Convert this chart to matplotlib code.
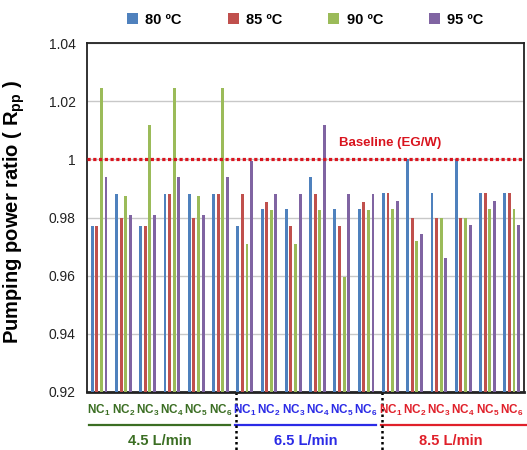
import numpy as np
import matplotlib
matplotlib.use("Agg")
import matplotlib.pyplot as plt
from matplotlib.transforms import blended_transform_factory

plt.rcParams["font.family"] = ["Liberation Sans", "DejaVu Sans"]
plt.rcParams["mathtext.fontset"] = "custom"
plt.rcParams["mathtext.rm"] = "Liberation Sans"
plt.rcParams["mathtext.bf"] = "Liberation Sans:bold"

# ---------------------------------------------------------------------------
# Data
# ---------------------------------------------------------------------------
nanofluids = ["NC$_\\mathbf{%d}$" % i for i in range(1, 7)]
flow_rates = ["4.5 L/min", "6.5 L/min", "8.5 L/min"]
temps = ["80 ºC", "85 ºC", "90 ºC", "95 ºC"]

r80 = [0.977, 0.988, 0.977, 0.988, 0.988, 0.988,
       0.977, 0.983, 0.983, 0.994, 0.983, 0.983,
       0.9885, 1.000, 0.9886, 1.000, 0.9885, 0.9885]
r85 = [0.977, 0.980, 0.977, 0.988, 0.980, 0.988,
       0.988, 0.9855, 0.977, 0.988, 0.977, 0.9855,
       0.9885, 0.980, 0.980, 0.980, 0.9885, 0.9885]
r90 = [1.0245, 0.9875, 1.012, 1.0245, 0.9875, 1.0245,
       0.971, 0.9825, 0.971, 0.9825, 0.9595, 0.9825,
       0.983, 0.972, 0.980, 0.980, 0.983, 0.983]
r95 = [0.994, 0.981, 0.981, 0.994, 0.981, 0.994,
       0.9995, 0.988, 0.988, 1.012, 0.988, 0.988,
       0.9856, 0.9745, 0.966, 0.9774, 0.9856, 0.9774]

baseline = 1.0

bar_colors = ["#4F81BD", "#C0504D", "#9BBB59", "#8064A2"]
block_colors = ["#3B6E23", "#2B2BE6", "#E0202A"]

# ---------------------------------------------------------------------------
# Plot
# ---------------------------------------------------------------------------
fig = plt.figure(figsize=(5.27, 4.5), dpi=100)
ax = fig.add_axes([0.165, 0.129, 0.829, 0.775])

x = np.arange(len(r80))
step, width = 0.19, 0.12
series = [r80, r85, r90, r95]
bars = []
for i, (vals, col) in enumerate(zip(series, bar_colors)):
    off = (i - 1.5) * step
    bars.append(ax.bar(x + off, np.array(vals) - 0.92, width, bottom=0.92,
                       color=col, edgecolor="none", zorder=3))

ax.set_xlim(-0.5, len(x) - 0.5)
ax.set_ylim(0.92, 1.04)
ax.set_yticks([0.92, 0.94, 0.96, 0.98, 1.0, 1.02, 1.04])
ax.set_yticklabels(["0.92", "0.94", "0.96", "0.98", "1", "1.02", "1.04"])
ax.tick_params(axis="y", length=0, labelsize=10, pad=8, colors="#222222")
ax.tick_params(axis="x", length=0, labelbottom=False)
ax.grid(axis="y", color="#C8C8C8", lw=1, zorder=0)
for s in ax.spines.values():
    s.set_color("#222222")
    s.set_linewidth(1.3)
ax.spines["bottom"].set_linewidth(2)

ax.set_ylabel("Pumping power ratio ( R$_{\\mathbf{pp}}$ )", fontsize=14.5,
              fontweight="bold")
ax.yaxis.set_label_coords(-0.137, 0.516)

# baseline
ax.axhline(baseline, color="#D9141E", lw=2.3, ls=(0, (1, 0.8)), zorder=4)
ax.text(9.9, baseline + 0.0035, "Baseline (EG/W)", color="#D9141E",
        fontsize=9.5, fontweight="bold", va="bottom", ha="left")

# legend
ax.legend(bars, temps, loc="lower center", bbox_to_anchor=(0.5, 1.01),
          ncol=4, frameon=False, handlelength=0.75, handleheight=0.75,
          handletextpad=0.5, columnspacing=3.15,
          prop={"size": 10.5, "weight": "bold"})

# x labels: nanofluid per group, flow rate per block
trans = blended_transform_factory(ax.transData, ax.transAxes)
for b, (rate, col) in enumerate(zip(flow_rates, block_colors)):
    for j, name in enumerate(nanofluids):
        ax.text(b * 6 + j, -0.052, name, transform=trans, ha="center",
                va="center", fontsize=8.5, fontweight="bold", color=col,
                clip_on=False)
    x0 = b * 6 - 0.4
    x1 = b * 6 + 5.4 if b < 2 else b * 6 + 5.8
    ax.plot([x0, x1], [-0.095, -0.095], transform=trans, color=col,
            lw=1.6, clip_on=False)
    ax.text(b * 6 + 2.5, -0.14, rate, transform=trans, ha="center",
            va="center", fontsize=10.5, fontweight="bold", color=col,
            clip_on=False)

for sep in [5.65, 11.65]:
    ax.plot([sep, sep], [0, -0.17], transform=trans, color="black",
            lw=1.8, ls=(0, (1, 1.2)), clip_on=False)

fig.savefig("out.png", dpi=100)
